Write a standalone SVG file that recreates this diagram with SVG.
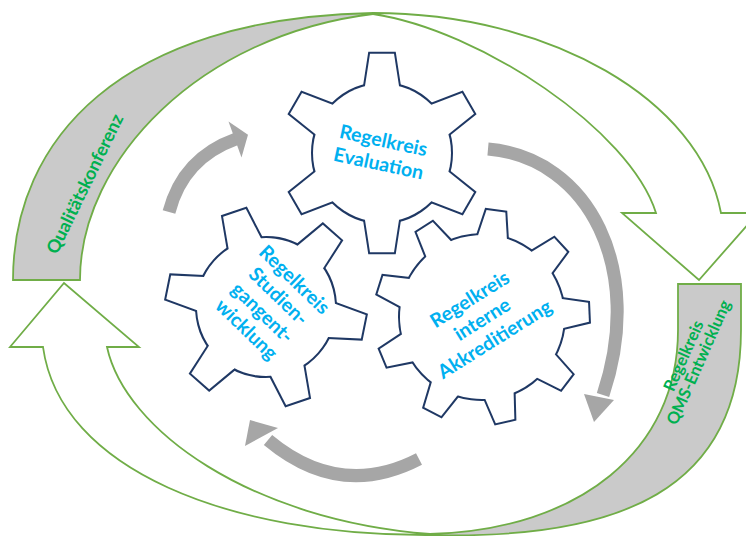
<svg xmlns="http://www.w3.org/2000/svg" xmlns:xlink="http://www.w3.org/1999/xlink" width="746" height="536" viewBox="0 0 746 536">
<style>
.band{stroke:#70AD47;stroke-width:1.8;stroke-linejoin:miter}
.white{fill:#FFFFFF}
.shade{fill:#CACACA}
.gtxt{fill:#00B050;font-family:Lato,"Open Sans",sans-serif;font-weight:700}
.btxt{fill:#00B0F0;font-family:Lato,"Open Sans",sans-serif;font-weight:700;font-size:19.5px;text-anchor:middle}
.garc{fill:none;stroke:#A6A6A6;stroke-width:13;stroke-linecap:butt}
.ghead{fill:#A6A6A6}
.gout{fill:#FFFFFF;stroke:#1F3864;stroke-width:4;stroke-linejoin:miter}
.gin{fill:#FFFFFF;stroke:none}
</style>
<defs>
<path id="tooth6" d="M-14,-55 L-17,-66.9 L-12,-99.3 L12,-99.3 L17,-66.9 L14,-55 Z"/>
<path id="tooth9" d="M-12,-70 L-14.5,-80.7 L-9.5,-106.6 L9.5,-106.6 L14.5,-80.7 L12,-70 Z"/>
<g id="gear6">
<circle r="69"/>
<use xlink:href="#tooth6"/>
<use xlink:href="#tooth6" transform="rotate(60)"/>
<use xlink:href="#tooth6" transform="rotate(120)"/>
<use xlink:href="#tooth6" transform="rotate(180)"/>
<use xlink:href="#tooth6" transform="rotate(240)"/>
<use xlink:href="#tooth6" transform="rotate(300)"/>
</g>
<g id="gear9">
<circle r="82"/>
<use xlink:href="#tooth9"/>
<use xlink:href="#tooth9" transform="rotate(40)"/>
<use xlink:href="#tooth9" transform="rotate(80)"/>
<use xlink:href="#tooth9" transform="rotate(120)"/>
<use xlink:href="#tooth9" transform="rotate(160)"/>
<use xlink:href="#tooth9" transform="rotate(200)"/>
<use xlink:href="#tooth9" transform="rotate(240)"/>
<use xlink:href="#tooth9" transform="rotate(280)"/>
<use xlink:href="#tooth9" transform="rotate(320)"/>
</g>
</defs>
<rect width="746" height="536" fill="#FFFFFF"/>

<g id="qualitaetskonferenz">
<path class="band shade" d="M13,280 C13,140 120,18 373,13 L373,14 C200,35 80,160 80,280 Z"/>
<path class="band white" d="M373,14 C480,30 630,130 656,213 L622,213 L699,280 L758,213 L721,213 C700,100 550,13 373,13 Z"/>
<text class="gtxt" font-size="18" text-anchor="middle" transform="translate(85,184) rotate(-64)" y="6">Qualitätskonferenz</text>
</g>

<g id="qms-entwicklung">
<path class="band white" d="M43,347 L10,347 L64,283 L139,347 L107,347 C125,430 250,520 430,534 L430,535 C230,536 60,470 43,347 Z"/>
<path class="band shade" d="M430,534 C580,530 678,450 678,330 L678,284 L741,284 L741,330 C741,490 620,540 430,535 Z"/>
<text class="gtxt" font-size="16.5" text-anchor="middle" transform="translate(691,359) rotate(-66)"><tspan x="0" y="-2.5">Regelkreis</tspan><tspan x="0" y="14">QMS-Entwicklung</tspan></text>
</g>

<g id="connectors">
<path class="garc" d="M169,212 Q183,158 236,139"/>
<polygon class="ghead" points="228.5,121.6 248,134.7 241.5,157.4"/>
<path class="garc" d="M488,149 C590,158 645,270 603,395"/>
<polygon class="ghead" points="584,394 594,422 614,400"/>
<path class="garc" d="M419,459 Q340,500 268,440"/>
<polygon class="ghead" points="250,420 245,446 278,428"/>
</g>

<g id="gear-studiengang">
<use xlink:href="#gear6" class="gout" transform="translate(266,307) rotate(41.5)"/>
<use xlink:href="#gear6" class="gin" transform="translate(266,307) rotate(41.5)"/>
<text class="btxt" transform="translate(270,305) rotate(44)"><tspan x="0" y="-28.5">Regelkreis</tspan><tspan x="0" y="-5.5">Studien-</tspan><tspan x="0" y="17.5">gangent-</tspan><tspan x="0" y="40.5">wicklung</tspan></text>
</g>

<g id="gear-akkreditierung">
<use xlink:href="#gear9" class="gout" transform="translate(482,317) rotate(7.5)"/>
<use xlink:href="#gear9" class="gin" transform="translate(482,317) rotate(7.5)"/>
<text class="btxt" transform="translate(482,319) rotate(-32)"><tspan x="0" y="-16.5">Regelkreis</tspan><tspan x="0" y="7">interne</tspan><tspan x="0" y="30.5">Akkreditierung</tspan></text>
</g>

<g id="gear-evaluation">
<use xlink:href="#gear6" class="gout" transform="translate(382,153)"/>
<use xlink:href="#gear6" class="gin" transform="translate(382,153)"/>
<text class="btxt" transform="translate(381,152) rotate(12)"><tspan x="0" y="-5">Regelkreis</tspan><tspan x="0" y="18.5">Evaluation</tspan></text>
</g>
</svg>
